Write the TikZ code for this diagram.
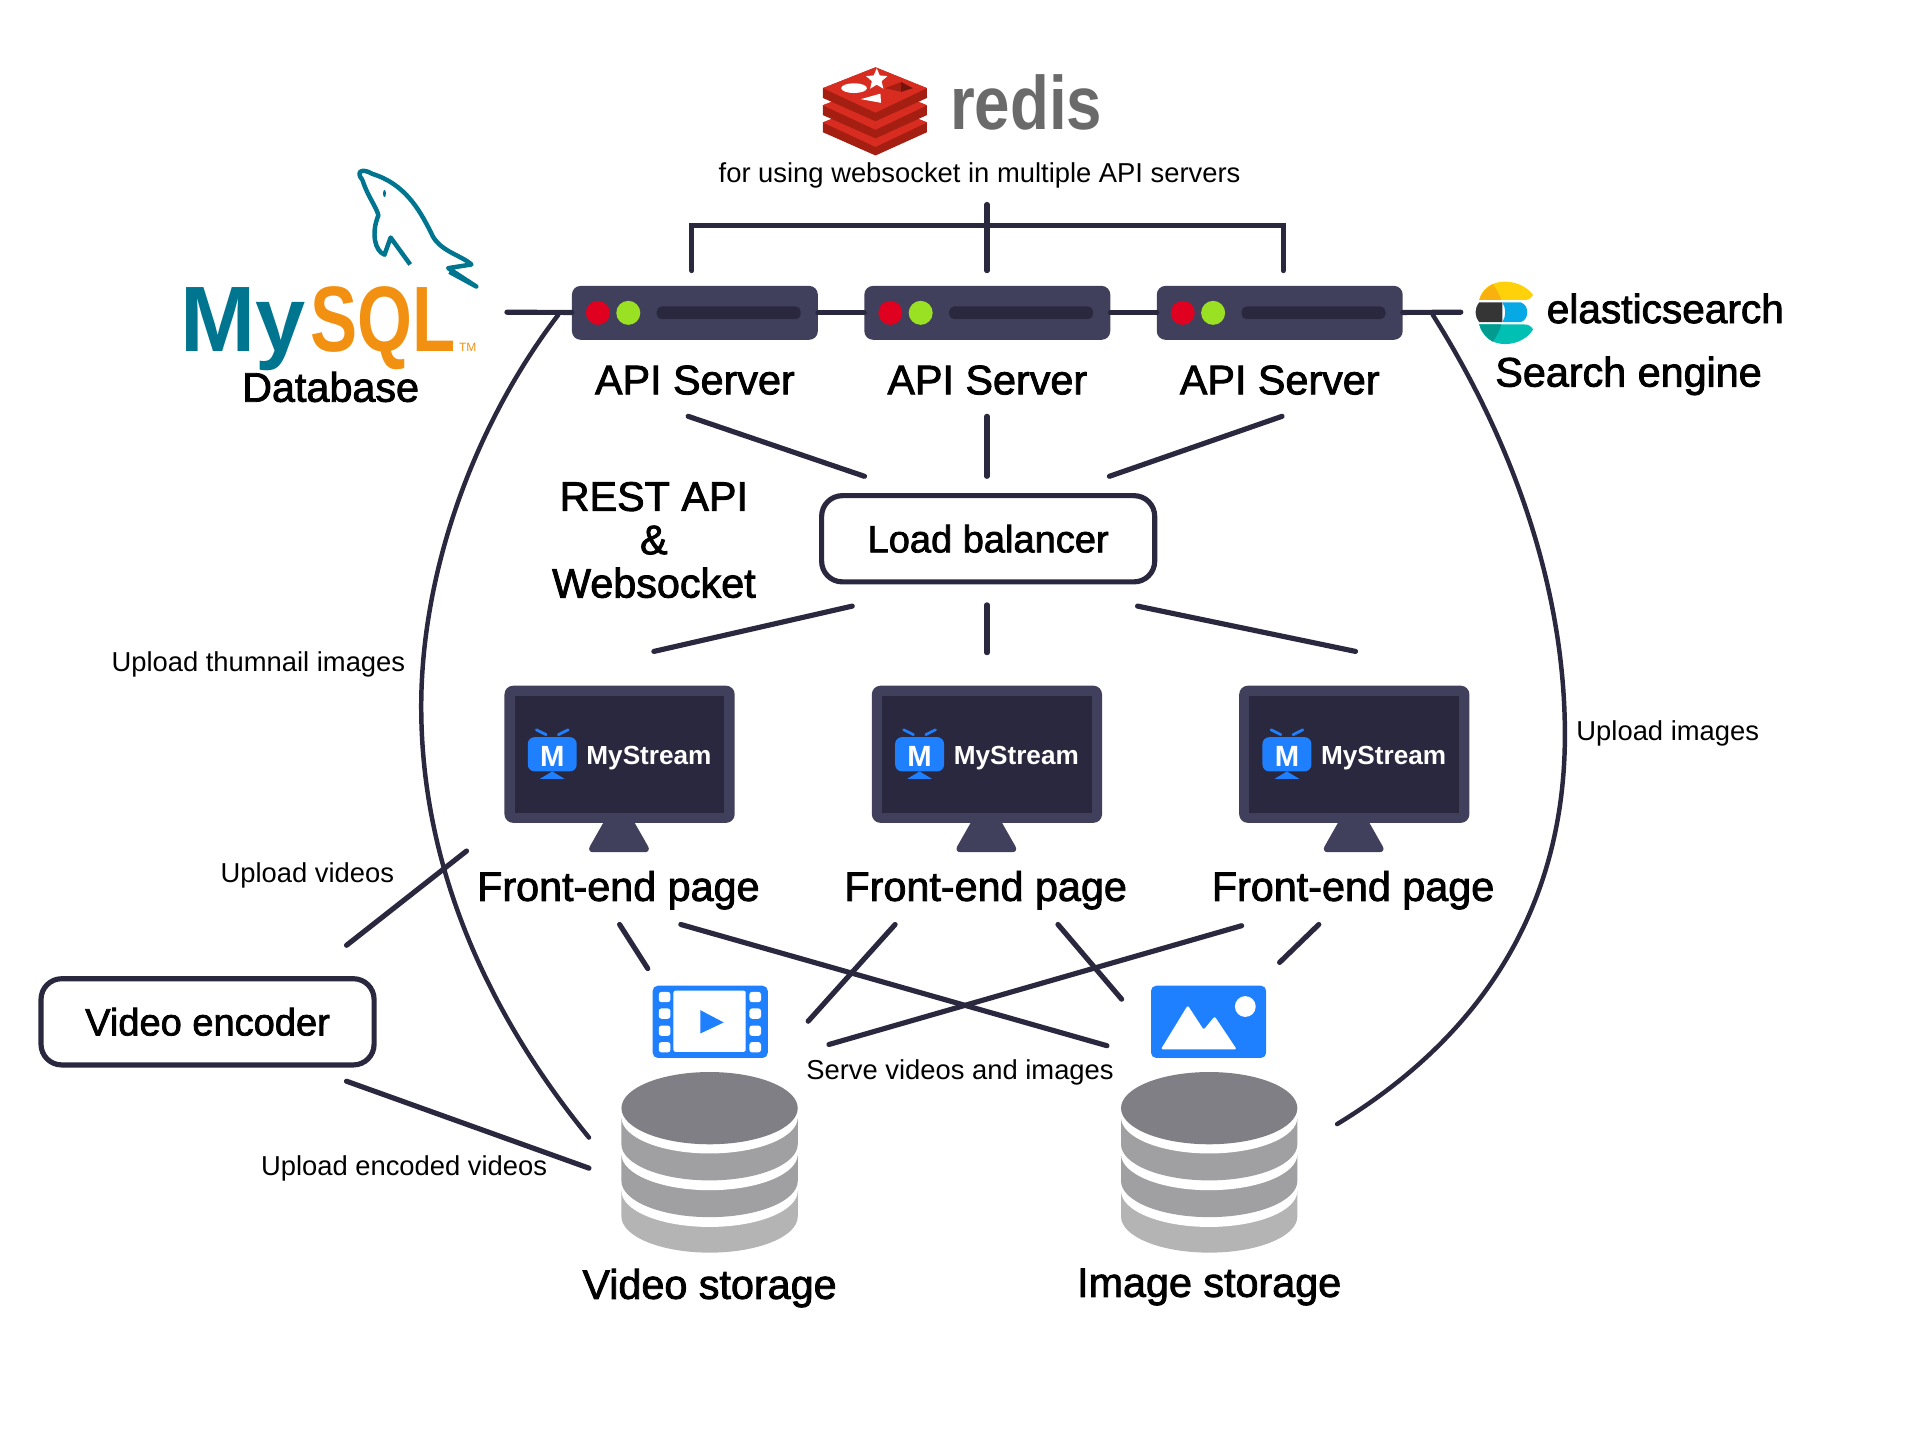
\documentclass[tikz,border=0pt]{standalone}
\usepackage{fontspec}
\setmainfont{Liberation Sans}
\newfontfamily\labelfont[FakeBold=2]{Liberation Sans}
\usetikzlibrary{positioning,shapes.geometric}
\definecolor{LineDark}{RGB}{42,40,62}
\definecolor{PanelGrey}{RGB}{65,64,92}
\definecolor{BrandBlue}{RGB}{30,127,255}
\definecolor{LedRed}{RGB}{224,0,32}
\definecolor{LedGreen}{RGB}{155,225,35}
\definecolor{RedisRed}{RGB}{216,44,32}
\definecolor{RedisDark}{RGB}{164,30,17}
\definecolor{RedisGrey}{RGB}{106,106,106}
\definecolor{MysqlTeal}{RGB}{0,117,143}
\definecolor{MysqlOrange}{RGB}{242,145,17}
\definecolor{ElasticYellow}{RGB}{254,209,10}
\definecolor{ElasticOrange}{RGB}{249,177,16}
\definecolor{ElasticDark}{RGB}{53,53,53}
\definecolor{ElasticBlue}{RGB}{7,169,229}
\definecolor{ElasticTeal}{RGB}{0,191,179}
\definecolor{ElasticDeep}{RGB}{1,155,143}
\definecolor{CylTop}{RGB}{128,127,133}
\definecolor{CylMid}{RGB}{160,160,162}
\definecolor{CylLow}{RGB}{180,180,180}
\tikzset{
  link/.style={line width=1.5pt,draw=LineDark,line cap=round},
  uploadlink/.style={line width=1.3pt,draw=LineDark,line cap=round},
  serverbox/.style={fill=PanelGrey,rounded corners=2.5pt,minimum width=25.1mm,
    minimum height=5.5mm,inner sep=0pt,outer sep=0pt},
  monitorbox/.style={fill=PanelGrey,rounded corners=2.5pt,minimum width=23.5mm,
    minimum height=14mm,inner sep=0pt,outer sep=0pt},
  screenbox/.style={fill=LineDark,minimum width=21.4mm,minimum height=11.9mm,
    inner sep=0pt,outer sep=0pt},
  framebox/.style={draw=LineDark,fill=white,line width=1.5pt,rounded corners=6pt,
    minimum width=34mm,minimum height=8.8mm,inner sep=0pt,
    font=\labelfont\fontsize{11.05}{14}\selectfont},
  biglabel/.style={inner sep=0pt,align=center,font=\labelfont\fontsize{12}{12.6}\selectfont},
  smalllabel/.style={inner sep=0pt,font=\fontsize{7.95}{10}\selectfont},
  brandlabel/.style={inner sep=0pt,text=white,font=\bfseries\fontsize{7.6}{9}\selectfont}
}
\begin{document}
\begin{tikzpicture}[x=0.125mm,y=-0.125mm]
  \useasboundingbox (0,0) rectangle (1568,1176);
  % free ends of the connectors
  \foreach \n/\x/\y in {busL/414/255,busR/1193/255,leftT/456/257,rightT/1170/257,
    redisT/806/167,redisA/565/221,redisB/806/221,redisC/1048/221,
    apiAout/562/340,apiBout/806/340,apiCout/1047/340,lbAin/706/389,lbBin/806/389,lbCin/906/389,
    lbAout/696/495,lbBout/806/494,lbCout/929/495,feAin/534/532,feBin/806/533,feCin/1107/532,
    feAv/506/755,vidA/529/791,feBv/731/755,vidB/660/834,feAi/556/755,imgA/904/854,
    feBi/864/755,imgB/916/816,feCv/1014/756,vidC/677/853,feCi/1077/755,imgC/1045/786,
    feAenc/381/695,encT/283/772,encB/283/883,vidD/481/954,vidE/481/929,imgD/1092/918}
    \coordinate (\n) at (\x,\y);

  % redis
  \foreach \o in {28,14,0} {
    \fill[RedisDark] (672,72+\o) -- (715,55+\o) -- (757,72+\o) -- (757,80+\o) -- (715,99+\o) -- (672,80+\o) -- cycle;
    \fill[RedisRed] (672,72+\o) -- (715,55+\o) -- (757,72+\o) -- (715,92+\o) -- cycle;
  }
  \node[star,star points=5,star point ratio=2.2,fill=white,inner sep=0pt,minimum size=2.3mm] (redisstar) at (716,65) {};
  \fill[white] (697.5,72) ellipse [x radius=10.5,y radius=4];
  \fill[white] (703,81) -- (719,76.5) -- (719.5,84) -- cycle;
  \fill[RedisDark] (723,72) -- (736,67) -- (736,75) -- cycle;
  \fill[RedisDark!70!black] (736,67) -- (745.5,72) -- (736,75) -- cycle;
  \node[inner sep=0pt,text=RedisGrey,font=\bfseries\fontsize{22}{24}\selectfont] (redis) at (838,84) {\scalebox{.84}[1]{redis}};
  \node[smalllabel] (redisnote) at (800,143.5) {for using websocket in multiple API servers};

  % mysql
  \draw[MysqlTeal,line width=1.3pt,line join=round]
    (296,147) .. controls (290,140) and (296,137) .. (304,142)
    .. controls (330,150) and (342,170) .. (352,190)
    .. controls (358,205) and (376,208) .. (385,216) -- (366,219) -- (389,234) -- (367,222)
    (296,147) .. controls (300,160) and (308,170) .. (309,176)
    .. controls (303,190) and (306,205) .. (314,208) -- (319,194) -- (335,216);
  \fill[MysqlTeal] (314,158) ellipse [x radius=1.2,y radius=3];
  \node[anchor=base west,inner sep=0pt,text=MysqlTeal,font=\bfseries\fontsize{27}{30}\selectfont] (mysqlmy) at (147,287) {\scalebox{.97}[1]{My}};
  \node[anchor=base west,inner sep=0pt,text=MysqlOrange,font=\bfseries\fontsize{27}{30}\selectfont] (mysqlsql) at (253,287) {\scalebox{.76}[1]{SQL}};
  \node[inner sep=0pt,text=MysqlOrange,font=\fontsize{3.5}{5}\selectfont] (mysqltm) at (382,284) {TM};
  \node[biglabel] (database) at (270,316) {Database};

  % API servers
  \node[serverbox] (apiA) at (567.5,255.5) {};
  \node[serverbox,right=4.75mm of apiA] (apiB) {};
  \node[serverbox,right=4.75mm of apiB] (apiC) {};
  \foreach \n in {A,B,C} {
    \fill[LedRed] ([xshift=-9.9mm]api\n) circle [radius=9.8];
    \fill[LedGreen] ([xshift=-6.8mm]api\n) circle [radius=9.8];
    \fill[LineDark,rounded corners=1.5pt] ([xshift=-3.9mm,yshift=-.65mm]api\n) rectangle ([xshift=10.8mm,yshift=.65mm]api\n);
    \node[biglabel,below=2.55mm of api\n] (api\n label) {API Server};
  }
  \draw[link] (busL) -- (apiA);
  \draw[link] (apiA) -- (apiB);
  \draw[link] (apiB) -- (apiC);
  \draw[link] (apiC) -- (busR);
  \draw[link] (redisA) |- (806,184) -| (redisC);
  \draw[link] (redisT) -- (redisB);

  % elasticsearch
  \fill[ElasticYellow] (1208,245) .. controls (1210,236) and (1218,230) .. (1229,230)
    .. controls (1239,230) and (1248,235) .. (1252,241) .. controls (1250,244) and (1248,245) .. (1245,245) -- cycle;
  \fill[ElasticOrange] (1208,245) .. controls (1210,239) and (1214,235) .. (1219,232)
    .. controls (1222,236) and (1225,241) .. (1226,245) -- cycle;
  \fill[ElasticDark] (1208,247) -- (1227,247) -- (1227,263) -- (1208,263) .. controls (1204,258) and (1204,252) .. (1208,247) -- cycle;
  \fill[ElasticBlue] (1227,247) -- (1242,247) .. controls (1249,249) and (1249,261) .. (1242,263) -- (1227,263) .. controls (1230,258) and (1230,252) .. (1227,247) -- cycle;
  \fill[ElasticTeal] (1208,265) .. controls (1210,274) and (1218,281) .. (1229,281)
    .. controls (1239,281) and (1248,276) .. (1252,269) .. controls (1250,266) and (1248,265) .. (1245,265) -- cycle;
  \fill[ElasticDeep] (1208,265) .. controls (1210,271) and (1214,276) .. (1219,279)
    .. controls (1222,275) and (1225,270) .. (1226,265) -- cycle;
  \node[inner sep=0pt,font=\labelfont\fontsize{11.8}{14}\selectfont] (elastic) at (1360,252) {elasticsearch};
  \node[biglabel] (search) at (1330,307) {Search engine};

  % load balancer
  \node[framebox] (lb) at (807,440) {Load balancer};
  \node[biglabel] (rest) at (534,441) {REST API\\\&\\Websocket};
  \draw[link] (apiAout) -- (lbAin);
  \draw[link] (apiBout) -- (lbBin);
  \draw[link] (apiCout) -- (lbCin);
  \draw[link] (lbAout) -- (feAin);
  \draw[link] (lbBout) -- (feBin);
  \draw[link] (lbCout) -- (feCin);

  % front-end pages
  \foreach \n/\s in {A/0,B/300,C/600} {
    \begin{scope}[shift={(\s,0)}]
      \fill[PanelGrey,rounded corners=2pt] (499.5,660) -- (511.5,660) -- (532,696) -- (479,696) -- cycle;
      \node[monitorbox] (mon\n) at (506,616) {};
      \node[screenbox] (scr\n) at (506,616) {};
      \fill[BrandBlue,rounded corners=2pt] (431,602) rectangle (471,630);
      \fill[BrandBlue] (451,630) -- (461,636) -- (441,636) -- cycle;
      \draw[BrandBlue,line width=.8pt,line cap=round] (438,596) -- (446,600) (464,596) -- (456,600);
      \node[brandlabel,font=\bfseries\fontsize{8.5}{9}\selectfont] (logo\n) at (451,618) {M};
      \node[brandlabel] (brand\n) at (530,619.5) {MyStream};
      \node[biglabel] (fe\n) at (505,727) {Front-end page};
    \end{scope}
  }
  \draw[link] (feAv) -- (vidA);
  \draw[link] (feBv) -- (vidB);
  \draw[link] (feAi) -- (imgA);
  \draw[link] (feBi) -- (imgB);
  \draw[link] (feCv) -- (vidC);
  \draw[link] (feCi) -- (imgC);

  % video icon
  \fill[BrandBlue,rounded corners=1.5pt] (533,805) rectangle (627,864);
  \fill[white,rounded corners=.6pt] (550,809) rectangle (609,859);
  \foreach \y in {810,823.5,837.5,851}
    \foreach \x in {538,612}
      \fill[white,rounded corners=.8pt] (\x,\y) rectangle ++(9.5,8.5);
  \fill[BrandBlue] (572,825) -- (591,835) -- (572,844) -- cycle;

  % image icon
  \fill[BrandBlue,rounded corners=1.5pt] (940,805) rectangle (1034,864);
  \fill[white] (1017,822) circle [radius=8.5];
  \fill[white,rounded corners=.6pt] (948,857) -- (970,821) -- (983,841) -- (992,830) -- (1010,857) -- cycle;

  % storages
  \foreach \n/\x/\t/\yl in {vid/579.5/Video storage/1052,img/987.5/Image storage/1051} {
    \foreach \yb/\col in {1023/CylLow,1002/white,994/CylMid,972/white,964/CylMid,942/white}
      \fill[\col] (\x-72,\yb-50.5) -- (\x-72,\yb-29.5)
        arc [start angle=180,end angle=0,x radius=72,y radius=29.5]
        -- (\x+72,\yb-50.5) -- cycle;
    \fill[CylTop] (\x,905) ellipse [x radius=72,y radius=29.5];
    \node[biglabel] (\n label) at (\x,\yl) {\t};
  }
  \node[smalllabel] (serve) at (784,876) {Serve videos and images};

  % video encoder
  \node[framebox] (encoder) at (169.5,834.5) {Video encoder};
  \draw[link] (feAenc) -- (encT);
  \draw[link] (encB) -- (vidD);

  % uploads
  \draw[uploadlink] (leftT) .. controls (385,350) and (344,470) .. (344,577)
    .. controls (344,710) and (400,830) .. (vidE);
  \draw[uploadlink] (rightT) .. controls (1235,360) and (1278,480) .. (1278,600)
    .. controls (1278,730) and (1220,840) .. (imgD);
  \node[smalllabel] (upthumb) at (211,543) {Upload thumnail images};
  \node[smalllabel] (upvideo) at (251,715) {Upload videos};
  \node[smalllabel] (upenc) at (330,954) {Upload encoded videos};
  \node[smalllabel] (upimg) at (1362,599) {Upload images};
\end{tikzpicture}
\end{document}
